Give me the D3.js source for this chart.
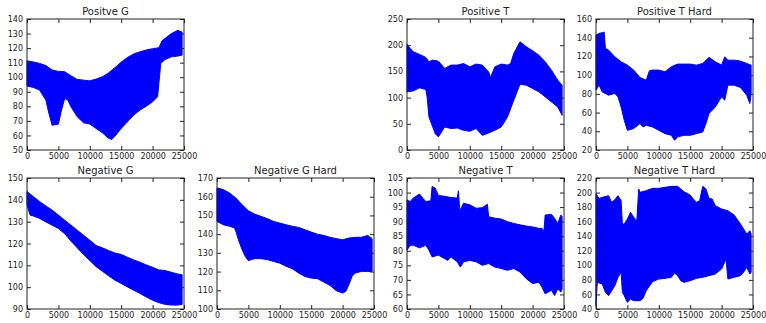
<!DOCTYPE html>
<html><head><meta charset="utf-8">
<script src="https://cdn.jsdelivr.net/npm/d3@7"></script>
<style>
html,body{margin:0;padding:0;background:#fff;}
svg{display:block;}
text{font-family:"DejaVu Sans",sans-serif;fill:#222;}
</style></head>
<body>
<svg id="c" width="766" height="323"></svg>
<script>
// ---- data: [sample index, value] envelope points ----
const posG_upper = [[0,111.3],[1000,110.5],[2000,109.5],[3000,108],[4000,105],[5000,104],[6000,103.8],[7000,101],[8000,98.5],[9000,98],[10000,97.5],[11000,98.7],[12000,100.3],[13000,103],[14000,106.5],[15000,110.4],[16000,113.6],[17000,116],[18000,117.5],[19000,118.7],[20000,119.6],[21000,120.3],[21500,125],[22000,126.7],[23000,130],[24000,132.2],[24700,131]];
const posG_lower = [[0,94],[1000,93],[2000,91.2],[3000,84.3],[3500,75],[4000,67],[5000,67.8],[5500,77.5],[6000,85.4],[6500,84.3],[7000,79.7],[8000,72.8],[9000,68.7],[10000,67.8],[11000,64.8],[12000,61.8],[13000,58],[13500,57.2],[14000,59.5],[15000,64.8],[16000,69.4],[17000,74],[18000,77.4],[19000,80.1],[20000,83.1],[20800,86.6],[21000,95.7],[21300,109.5],[22000,112.2],[23000,114],[24000,114.5],[24700,115.2]];

const posT_upper = [[0,201.5],[500,194],[1000,187.5],[2000,182.4],[3000,176.7],[3500,168],[4000,171.6],[5000,169.6],[6000,155.6],[7000,162],[8000,162],[9000,165],[10000,158.8],[11000,164],[12000,162],[13000,149],[13300,138.4],[14000,158.8],[15000,164],[16000,162],[16500,165],[17000,184.3],[18000,206.6],[19000,197],[20000,189.4],[21000,181],[22000,168.4],[23000,152.4],[24000,133.3],[24700,123.7]];
const posT_lower = [[0,111],[1000,112.8],[2000,118.6],[3000,115.4],[3200,101.4],[3500,63],[4000,47],[4500,31],[5000,25],[5500,34.4],[6000,44],[7000,41],[8000,42],[9000,37.6],[10000,35.7],[11000,41],[12000,28],[13000,32.5],[14000,37.6],[15000,44],[16000,63],[17000,95],[18000,125.6],[19000,123.7],[20000,117.3],[21000,111],[22000,101.4],[23000,91.8],[24000,82.3],[24700,66.3]];

const posTH_upper = [[0,142.9],[500,144.6],[1000,145.4],[1300,146],[1500,128.6],[2000,126.8],[3000,119.6],[4000,114.3],[5000,110.7],[6000,105.4],[7000,97.5],[8000,94.6],[8500,104.6],[9000,105.4],[10000,105.4],[11000,103.6],[12000,109],[13000,111.8],[14000,111.8],[15000,111.8],[16000,110.7],[17000,112.5],[18000,119],[19000,114.3],[20000,110.7],[20500,119.6],[21000,116],[22000,116],[23000,115],[24000,112.5],[24700,110.7]];
const posTH_lower = [[0,84],[500,89.3],[1000,82],[2000,78.6],[3000,80.4],[3500,76.8],[4000,66],[4500,51.8],[5000,41],[6000,42.9],[7000,48.2],[7500,44.6],[8000,46.4],[9000,44.6],[10000,41],[11000,37.5],[12000,35.7],[12500,30.4],[13000,34],[14000,35.7],[15000,35.7],[16000,37.5],[17000,39.3],[17500,48.2],[18000,59],[19000,66],[20000,76.8],[20500,73.2],[21000,89.3],[22000,89.3],[23000,86.8],[24000,78.6],[24500,69.6],[24700,80.4]];

const negG_upper = [[0,143.8],[1000,141.5],[2000,139.2],[3000,137.2],[4000,135.3],[5000,133],[6000,130.7],[7000,128.4],[8000,126.1],[9000,123.8],[10000,121.5],[11000,119.1],[12000,118],[13000,116.8],[14000,115.6],[15000,115],[16000,113.7],[17000,112.5],[18000,111.4],[19000,110.2],[20000,109.1],[21000,107.9],[22000,107.6],[23000,106.8],[24000,106],[24700,105.7]];
const negG_lower = [[0,137.7],[500,133],[1000,132.6],[2000,131.5],[3000,129.9],[4000,128.4],[5000,126.9],[6000,124.5],[7000,121.1],[8000,118],[9000,115],[10000,112.2],[11000,109.4],[12000,107.3],[13000,105.2],[14000,103.2],[15000,101.7],[16000,100.1],[17000,98.6],[18000,97.1],[19000,95.5],[20000,94],[21000,92.9],[22000,92.1],[23000,91.8],[24000,91.8],[24700,92.1]];

const negGH_upper = [[0,164.7],[1000,163.8],[2000,162],[3000,159.3],[4000,155.7],[5000,152.5],[6000,150.7],[7000,149.5],[8000,148.3],[9000,146.8],[10000,145.9],[11000,145],[12000,144.2],[13000,143.6],[14000,142.4],[15000,141.1],[16000,140],[17000,139.3],[18000,138.3],[19000,137.6],[20000,137],[21000,137.9],[22000,138.3],[23000,138.3],[24000,139.3],[24700,137.6]];
const negGH_lower = [[0,146.8],[1000,145],[2000,144.2],[2800,143.3],[3000,141.5],[3500,136.1],[4000,131.7],[4500,128.1],[5000,125.8],[5500,126.4],[6000,126.9],[7000,126.9],[8000,126.4],[9000,125.4],[10000,124.5],[11000,122.8],[12000,121.5],[13000,119.2],[14000,117.4],[15000,116.5],[16000,116.2],[17000,114.4],[18000,112.6],[19000,109.8],[20000,108.5],[20500,109.4],[21000,113],[21500,117.4],[22000,119.2],[23000,120.1],[24000,120.1],[24700,120.1]];

const negT_upper = [[0,97.5],[500,96.9],[1000,98.1],[2000,99.5],[2500,98.1],[3000,96.9],[3800,97.2],[4000,102.1],[4500,101.5],[5000,99],[6000,98.7],[7000,98.3],[8000,98.1],[8200,100.6],[8400,93.7],[9000,96.3],[10000,95.8],[11000,94.6],[12000,94.8],[12800,96],[13000,91.7],[14000,91.2],[15000,90.9],[16000,90],[17000,89.4],[18000,88.9],[19000,88.5],[20000,88.2],[21000,87.7],[21500,87.7],[21800,86.5],[22000,92.3],[23000,92.5],[23500,91.2],[24000,89.4],[24500,92.3],[24700,91.7]];
const negT_lower = [[0,80.2],[500,81.9],[1000,81.9],[2000,81],[3000,81.9],[3500,80.2],[4000,77.9],[5000,78.5],[6000,77.3],[6500,76.7],[7000,77.9],[8000,76.2],[8500,74.4],[9000,76.2],[10000,76.7],[11000,76.2],[12000,75],[13000,75.6],[14000,74.4],[15000,73.9],[16000,73.3],[17000,73.9],[18000,72.7],[19000,70.4],[20000,68.7],[21000,69.2],[21500,67.5],[22000,65.2],[23000,66.4],[23500,64.6],[24000,66.9],[24500,65.8],[24700,66.9]];

const negTH_upper = [[0,198],[500,192],[1000,193.4],[2000,195.7],[2500,186.6],[3000,190.2],[3500,195.7],[4000,188.8],[4200,156.8],[4500,156.8],[5000,163.7],[5500,172.8],[6000,166],[6500,161.4],[6800,204.9],[7000,200.3],[8000,202.6],[9000,205.8],[10000,205.8],[11000,207.2],[12000,208.5],[13000,208.5],[13500,204.9],[14000,201.2],[15000,196.6],[15500,191.1],[16000,186.6],[16500,188.8],[17000,208.5],[17500,204.9],[18000,192],[18500,191.1],[19000,182],[20000,177.4],[21000,175.1],[22000,169.2],[23000,156.8],[23500,149.9],[24000,143],[24500,147.6],[24700,143]];
const negTH_lower = [[0,44.5],[200,76.6],[1000,74.3],[1500,62.9],[2000,58.3],[2500,65.2],[3000,72],[3500,83.5],[4000,90.4],[4200,62.9],[4500,58.3],[5000,49.1],[5500,53.7],[6000,51.4],[7000,51.4],[7500,54.6],[8000,65.2],[9000,77.5],[10000,81.2],[11000,82.1],[12000,83.5],[12500,89.4],[13000,85.8],[13500,78.9],[14000,76.6],[15000,78.9],[16000,82.1],[17000,83.5],[18000,85.8],[19000,88.1],[20000,95],[20700,108.7],[21000,81.2],[22000,83.5],[23000,85.8],[23500,90.4],[24000,97.2],[24500,88.1],[24700,90.4]];

const titles = ["Positve G","Positive T","Positive T Hard","Negative G","Negative G Hard","Negative T","Negative T Hard"];
const xTicks = [0,5000,10000,15000,20000,25000];
const yTicks = [
  [50,60,70,80,90,100,110,120,130,140],
  [0,50,100,150,200,250],
  [20,40,60,80,100,120,140,160],
  [90,100,110,120,130,140,150],
  [100,110,120,130,140,150,160,170],
  [60,65,70,75,80,85,90,95,100,105],
  [40,60,80,100,120,140,160,180,200,220]
];
const uppers = [posG_upper,posT_upper,posTH_upper,negG_upper,negGH_upper,negT_upper,negTH_upper];
const lowers = [posG_lower,posT_lower,posTH_lower,negG_lower,negGH_lower,negT_lower,negTH_lower];

// ---- layout ----
const colX = [27,217,407,596];
const rowY = [19,178];
const pw = 157, ph = 131;
const slots = [[0,0],[0,2],[0,3],[1,0],[1,1],[1,2],[1,3]];
const blue = "#0000ff";

const svg = d3.select("#c");

titles.forEach((t,i)=>{
  const [r,c] = slots[i];
  const g = svg.append("g").attr("transform",`translate(${colX[c]},${rowY[r]})`);
  const yt = yTicks[i];
  const x = d3.scaleLinear().domain([0,25000]).range([0,pw]);
  const y = d3.scaleLinear().domain([yt[0],yt[yt.length-1]]).range([ph,0]);

  const pts = uppers[i].concat(lowers[i].slice().reverse());
  const line = d3.line().x(d=>x(d[0])).y(d=>y(d[1]));
  g.append("path").attr("d",line(pts)+"Z")
    .attr("fill",blue).attr("stroke",blue).attr("stroke-width",1).attr("stroke-linejoin","round");

  const fs = "8px";
  const ax = (axis, tr, labels) => {
    const a = g.append("g").attr("transform",tr).call(axis);
    a.select(".domain").remove();
    a.selectAll("line").attr("stroke","#222");
    a.selectAll("text").style("font-size",fs).attr("fill","#222");
    if(!labels) a.selectAll("text").remove();
    return a;
  };
  ax(d3.axisLeft(y).tickValues(yt).tickSizeInner(-4).tickSizeOuter(0).tickPadding(4).tickFormat(d3.format("d")),"translate(0,0)",true);
  ax(d3.axisRight(y).tickValues(yt).tickSizeInner(-4).tickSizeOuter(0),`translate(${pw},0)`,false);
  const bx = ax(d3.axisBottom(x).tickValues(xTicks).tickSizeInner(-4).tickSizeOuter(0).tickPadding(3).tickFormat(d3.format("d")),`translate(0,${ph})`,true);
  ax(d3.axisTop(x).tickValues(xTicks).tickSizeInner(-4).tickSizeOuter(0),"translate(0,0)",false);

  g.append("rect").attr("x",0).attr("y",0).attr("width",pw).attr("height",ph)
    .attr("fill","none").attr("stroke","#222").attr("stroke-width",1);

  g.append("text").attr("x",pw/2).attr("y",-4).attr("text-anchor","middle")
    .style("font-size","10px").text(t);
});
</script>
</body></html>
